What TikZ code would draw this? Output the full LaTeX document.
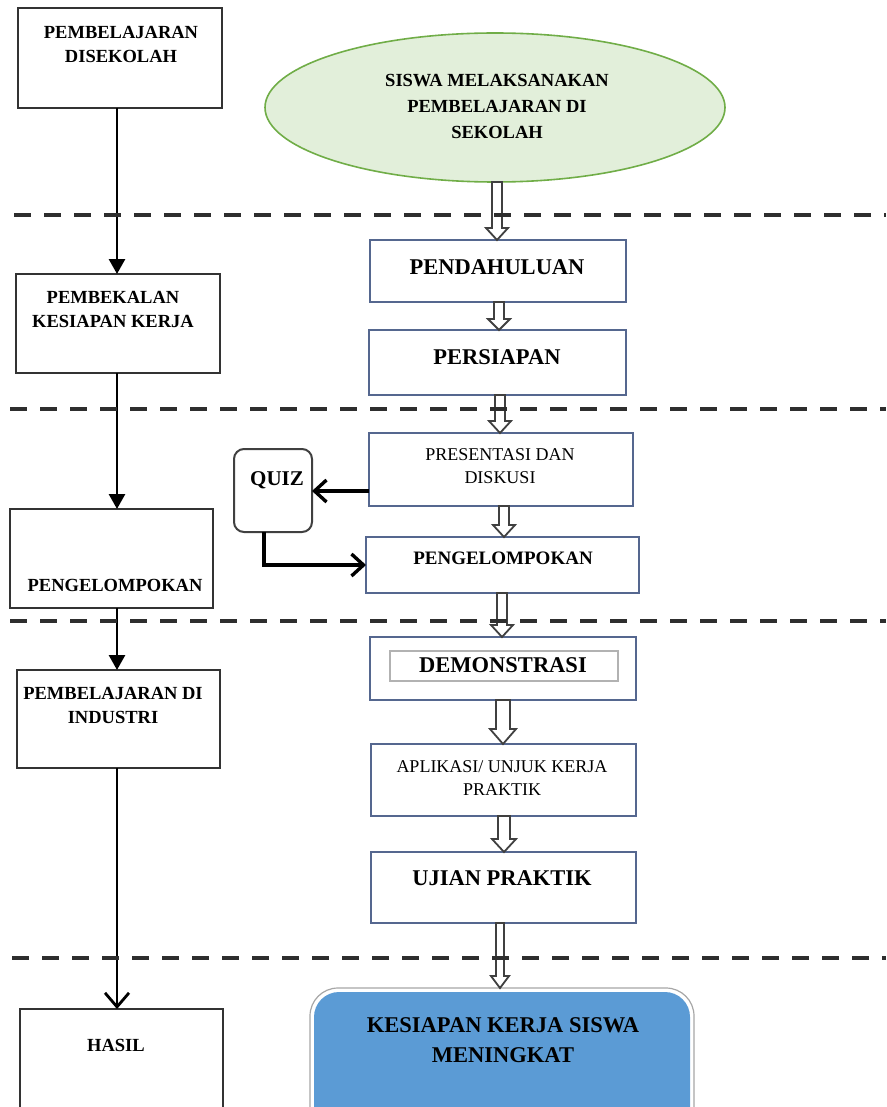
\documentclass[tikz,border=0pt]{standalone}
\usepackage{fontspec}
\setmainfont{Liberation Serif}
\usetikzlibrary{arrows.meta,shapes.geometric,calc}
\definecolor{ellfill}{HTML}{E2EFDA}
\definecolor{ellline}{HTML}{70AD47}
\definecolor{bluefill}{HTML}{5B9BD5}
\definecolor{rline}{HTML}{55678F}
\definecolor{dline}{HTML}{2E2E2E}
% hollow block arrow: #1 source node, #2 target node, #3 x, #4 shaft half width, #5 head half width, #6 head length
\newcommand{\harrow}[6]{%
  \draw[harr] let \p1=(#1.south), \p2=(#2.north) in
    (#3pt-#4pt,\y1) -- (#3pt-#4pt,\y2+#6pt) -- (#3pt-#5pt,\y2+#6pt) -- (#3pt,\y2)
    -- (#3pt+#5pt,\y2+#6pt) -- (#3pt+#4pt,\y2+#6pt) -- (#3pt+#4pt,\y1) -- cycle;}
\begin{document}
\begin{tikzpicture}[x=1pt,y=1pt,
  lbox/.style={draw=black!80, line width=2.5pt, rectangle, inner sep=0pt, outer sep=0pt},
  rbox/.style={draw=rline, line width=1.8pt, rectangle, inner sep=0pt, outer sep=0pt, fill=white},
  ltxt/.style={font=\bfseries\fontsize{18.5}{24}\selectfont, align=center, inner sep=0pt},
  btxt/.style={font=\bfseries\fontsize{22.5}{26}\selectfont, align=center, inner sep=0pt},
  ntxt/.style={font=\fontsize{18}{23}\selectfont, align=center, inner sep=0pt},
  lline/.style={draw=black, line width=2.8pt},
  qline/.style={draw=black, line width=3.4pt},
  harr/.style={draw=black!75, fill=white, line width=1.8pt},
  dashline/.style={draw=dline, line width=3.8pt, dash pattern=on 17pt off 13pt}]
\useasboundingbox (0,0) rectangle (886,-1107);
\clip (0,0) rectangle (886,-1107);

% reference coordinates
\coordinate (lx) at (117,0);
\coordinate (qy) at (0,-491);
\coordinate (qx) at (264,0);

% left column
\node[lbox, minimum width=204pt, minimum height=100pt] (B1) at (120,-58) {};
\node[ltxt] (T1) at (121,-44) {PEMBELAJARAN\\DISEKOLAH};
\node[lbox, minimum width=204pt, minimum height=99pt] (B2) at (118,-323.5) {};
\node[ltxt] (T2) at (113,-309) {PEMBEKALAN\\KESIAPAN KERJA};
\node[lbox, minimum width=203pt, minimum height=99pt] (B3) at (111.5,-558.5) {};
\node[ltxt] (T3) at (115,-585) {PENGELOMPOKAN};
\node[lbox, minimum width=203pt, minimum height=98pt] (B4) at (118.5,-719) {};
\node[ltxt] (T4) at (113,-705) {PEMBELAJARAN DI\\INDUSTRI};
\node[lbox, minimum width=203pt, minimum height=120pt] (B5) at (121.5,-1069) {};
\node[ltxt] (T5) at (116,-1045) {HASIL};

\draw[lline, -{Triangle[width=16pt,length=15pt]}] (B1.south -| lx) -- (B2.north -| lx);
\draw[lline, -{Triangle[width=16pt,length=15pt]}] (B2.south -| lx) -- (B3.north -| lx);
\draw[lline, -{Triangle[width=16pt,length=15pt]}] (B3.south -| lx) -- (B4.north -| lx);
\draw[lline, -{Straight Barb[width=24pt,length=14pt]}] (B4.south -| lx) -- (B5.north -| lx);

% right column
\node[ellipse, draw=ellline, line width=1.6pt, fill=ellfill, minimum width=460pt, minimum height=149pt, inner sep=0pt, outer sep=0pt] (E) at (495,-107.5) {};
\node[font=\bfseries\fontsize{18.5}{26}\selectfont, align=center, inner sep=0pt] (ET) at (497,-106) {SISWA MELAKSANAKAN\\PEMBELAJARAN DI\\SEKOLAH};

\node[rbox, minimum width=256pt, minimum height=62pt] (R1) at (498,-271) {};
\node[btxt] (RT1) at (497,-267) {PENDAHULUAN};
\node[rbox, minimum width=257pt, minimum height=65pt] (R2) at (497.5,-362.5) {};
\node[btxt] (RT2) at (497,-357) {PERSIAPAN};
\node[rbox, minimum width=264pt, minimum height=73pt] (R3) at (501,-469.5) {};
\node[ntxt] (RT3) at (500,-466.5) {PRESENTASI DAN\\DISKUSI};
\node[rbox, minimum width=273pt, minimum height=56pt] (R4) at (502.5,-565) {};
\node[ltxt, font=\bfseries\fontsize{19}{24}\selectfont] (RT4) at (503,-558) {PENGELOMPOKAN};
\node[rbox, minimum width=266pt, minimum height=63pt] (R5) at (503,-668.5) {};
\node[draw=black!30, line width=1.2pt, minimum width=228pt, minimum height=30pt, inner sep=0pt] (R5i) at (504,-666) {};
\node[btxt] (RT5) at (503,-665) {DEMONSTRASI};
\node[rbox, minimum width=265pt, minimum height=72pt] (R6) at (503.5,-780) {};
\node[ntxt] (RT6) at (502,-778.5) {APLIKASI/ UNJUK KERJA\\PRAKTIK};
\node[rbox, minimum width=265pt, minimum height=71pt] (R7) at (503.5,-887.5) {};
\node[btxt] (RT7) at (502,-878) {UJIAN PRAKTIK};

\node[draw=black!35, line width=1.2pt, rounded corners=28pt, minimum width=384pt, minimum height=150pt, inner sep=0pt, outer sep=0pt] (Kout) at (502,-1063) {};
\node[fill=bluefill, draw=none, rounded corners=25pt, minimum width=376pt, minimum height=142pt, inner sep=0pt, outer sep=0pt] (K) at (502,-1063) {};
\node[btxt, font=\bfseries\fontsize{22.5}{30}\selectfont] (KT) at (503,-1040) {KESIAPAN KERJA SISWA\\MENINGKAT};

% quiz
\node[draw=black!75, line width=2pt, rounded corners=10pt, minimum width=78pt, minimum height=83pt, inner sep=0pt, outer sep=0pt, fill=white] (Q) at (273,-490.5) {};
\node[font=\bfseries\fontsize{21}{24}\selectfont, inner sep=0pt] (QT) at (277,-480) {QUIZ};
\draw[qline, -{Straight Barb[width=22pt,length=12pt]}] (R3.west |- qy) -- (Q.east |- qy);
\draw[qline, -{Straight Barb[width=22pt,length=12pt]}] (Q.south -| qx) |- (R4.west);

% hollow arrows
\harrow{E}{R1}{497}{5}{11}{12}
\harrow{R1}{R2}{499}{5}{11}{11}
\harrow{R2}{R3}{500}{5}{11}{12}
\harrow{R3}{R4}{504}{5}{11}{12}
\harrow{R4}{R5}{502}{5}{11}{12}
\harrow{R5}{R6}{503}{7}{13}{15}
\harrow{R6}{R7}{504}{6}{12}{13}
\harrow{R7}{Kout}{500}{4}{9}{12}

% dashed separators
\draw[dashline] (14,-215) -- (886,-215);
\draw[dashline] (10,-409) -- (886,-409);
\draw[dashline] (10,-621) -- (886,-621);
\draw[dashline] (12,-958) -- (886,-958);
\end{tikzpicture}
\end{document}
